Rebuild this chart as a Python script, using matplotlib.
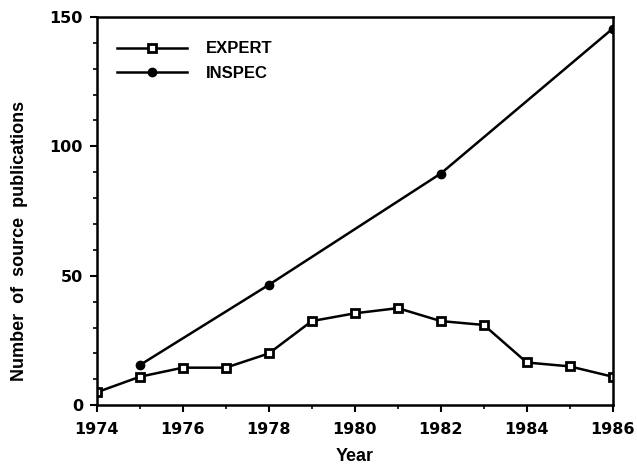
import matplotlib
matplotlib.use("Agg")
import matplotlib.pyplot as plt

# data
years_expert = [1974, 1975, 1976, 1977, 1978, 1979, 1980, 1981, 1982, 1983, 1984, 1985, 1986]
expert = [5, 11, 14.5, 14.5, 20, 32.5, 35.5, 37.5, 32.5, 31, 16.5, 15, 11]
years_inspec = [1975, 1978, 1982, 1986]
inspec = [15.5, 46.5, 89.5, 145.5]

plt.rcParams['font.family'] = ['Liberation Sans', 'DejaVu Sans']
plt.rcParams['font.weight'] = 'bold'

fig = plt.figure(figsize=(6.37, 4.69), dpi=100)
ax = fig.add_axes([0.152, 0.136, 0.810, 0.828])

ax.plot(years_expert, expert, color='black', lw=1.8, marker='s', ms=6,
        mfc='white', mec='black', mew=2, label='EXPERT')
ax.plot(years_inspec, inspec, color='black', lw=1.8, marker='o', ms=6,
        mfc='black', mec='black', label='INSPEC')

ax.set_xlim(1974, 1986)
ax.set_ylim(0, 150)
ax.set_xticks(range(1974, 1987, 2))
ax.set_xticks(range(1974, 1987), minor=True)
ax.set_yticks([0, 50, 100, 150])
ax.set_yticks(range(0, 151, 10), minor=True)
ax.tick_params(which='major', length=5, width=1.5)
ax.tick_params(axis='x', which='major', pad=7)
ax.tick_params(axis='y', which='major', pad=5)
ax.tick_params(which='minor', length=3, width=1.2)
for lbl in ax.get_xticklabels() + ax.get_yticklabels():
    lbl.set_fontfamily('DejaVu Sans')
    lbl.set_fontweight('bold')
    lbl.set_fontsize(11.5)
for s in ax.spines.values():
    s.set_linewidth(1.8)

ax.set_xlabel('Year', fontsize=13, fontweight='bold', labelpad=8)
ax.set_ylabel('Number  of  source  publications', fontsize=13, fontweight='bold')
ax.yaxis.set_label_coords(-0.133, 0.423)

leg = ax.legend(loc='upper left', bbox_to_anchor=(0.04, 0.937), frameon=False,
                borderpad=0, borderaxespad=0, handlelength=4.2, handletextpad=1.1,
                fontsize=12, labelspacing=0.55)
for t in leg.get_texts():
    t.set_fontweight('bold')

fig.savefig('out.png', dpi=100)
